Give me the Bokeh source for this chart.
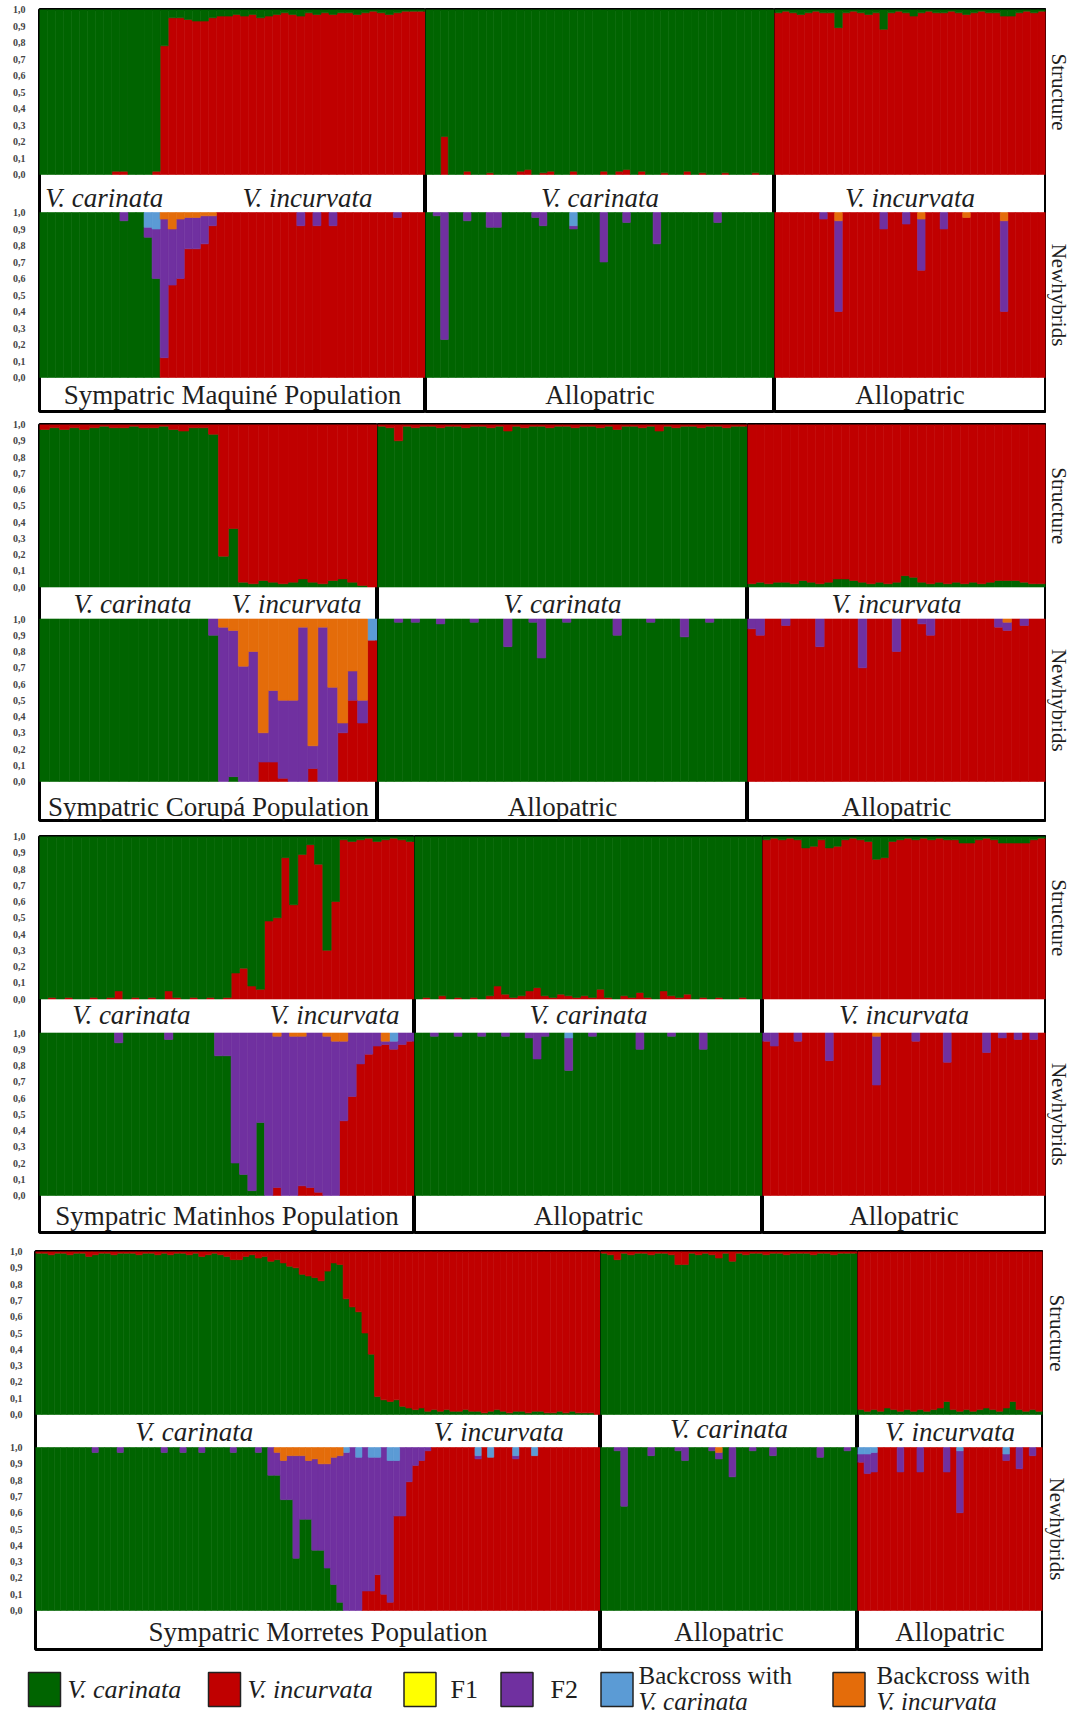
import numpy as np
from bokeh.plotting import figure
from bokeh.layouts import row, column
from bokeh.models import Range1d, FixedTicker
from bokeh.core.properties import value
from bokeh.embed import file_html
from bokeh.resources import INLINE

# ---------------- colours / labels ----------------
C_CAR = "#006400"
C_INC = "#c00000"
C_F1 = "#ffff00"
C_F2 = "#7030a0"
C_BCC = "#5b9bd5"
C_BCI = "#e46c0a"

TICK_VALUES = [0.0, 0.1, 0.2, 0.3, 0.4, 0.5, 0.6, 0.7, 0.8, 0.9, 1.0]
TICK_LABELS = ["0,0", "0,1", "0,2", "0,3", "0,4", "0,5", "0,6", "0,7", "0,8", "0,9", "1,0"]
SIDE_LABELS = ["Structure", "Newhybrids"]

LEGEND_LINE1 = ["V. carinata", "V. incurvata", "F1", "F2", "Backcross with", "Backcross with"]
LEGEND_LINE2 = ["", "", "", "", "V. carinata", "V. incurvata"]
LEGEND_COLORS = [C_CAR, C_INC, C_F1, C_F2, C_BCC, C_BCI]

# ---------------- data: Panel 1 (Maquine) ----------------
# Structure: proportion assigned to the V. carinata cluster
P1_SYM_STRUCT = [1, 1, 1, 1, 1, 1, 1, 1, 1, 0.98,
                 0.98, 1, 1, 1, 0.98, 0.22, 0.05, 0.05, 0.06, 0.07,
                 0.07, 0.05, 0.04, 0.04, 0.03, 0.04, 0.03, 0.05, 0.04, 0.03,
                 0.02, 0.03, 0.04, 0.02, 0.03, 0.02, 0.03, 0.02, 0.02, 0.03,
                 0.02, 0.01, 0.02, 0.03, 0.02, 0.01, 0.01, 0.01]
P1_SYM_NH_CAR = [1, 1, 1, 1, 1, 1, 1, 1, 1, 1,
                 0.95, 1, 1, 0.85, 0.6, 0, 0, 0, 0, 0,
                 0, 0, 0, 0, 0, 0, 0, 0, 0, 0,
                 0, 0, 0, 0, 0, 0, 0, 0, 0, 0,
                 0, 0, 0, 0, 0, 0, 0, 0]
P1_SYM_NH_F2 = [0, 0, 0, 0, 0, 0, 0, 0, 0, 0,
                0.05, 0, 0, 0.06, 0.3, 0.84, 0.34, 0.36, 0.19, 0.19,
                0.17, 0.06, 0, 0, 0, 0, 0, 0, 0, 0,
                0, 0, 0.08, 0, 0.08, 0, 0.08, 0, 0, 0,
                0, 0, 0, 0, 0.03, 0, 0, 0]
P1_SYM_NH_BCC = [0, 0, 0, 0, 0, 0, 0, 0, 0, 0,
                 0, 0, 0, 0.09, 0.1, 0, 0, 0, 0, 0,
                 0, 0, 0, 0, 0, 0, 0, 0, 0, 0,
                 0, 0, 0, 0, 0, 0, 0, 0, 0, 0,
                 0, 0, 0, 0, 0, 0, 0, 0]
P1_SYM_NH_BCI = [0, 0, 0, 0, 0, 0, 0, 0, 0, 0,
                 0, 0, 0, 0, 0, 0.04, 0.1, 0.04, 0.03, 0.03,
                 0.02, 0.02, 0, 0, 0, 0, 0, 0, 0, 0,
                 0, 0, 0, 0, 0, 0, 0, 0, 0, 0,
                 0, 0, 0, 0, 0, 0, 0, 0]

P1_CAR_STRUCT = [1, 1, 0.77, 1, 1, 0.98, 1, 1, 0.99, 1,
                 1, 1, 0.98, 0.97, 1, 0.99, 0.98, 1, 1, 0.98,
                 1, 1, 1, 0.98, 1, 0.98, 0.97, 1, 0.98, 1,
                 1, 0.99, 1, 1, 0.98, 1, 0.99, 1, 1, 0.99,
                 1, 1, 1, 0.99, 1, 1]
P1_CAR_NH_F2 = [0, 0.02, 0.77, 0, 0, 0.05, 0, 0, 0.09, 0.09,
                0, 0, 0, 0, 0.03, 0.08, 0, 0, 0, 0.02,
                0, 0, 0, 0.3, 0, 0, 0.06, 0, 0, 0,
                0.19, 0, 0, 0, 0, 0, 0, 0, 0.06, 0,
                0, 0, 0, 0, 0, 0]
P1_CAR_NH_BCC = [0, 0, 0, 0, 0, 0, 0, 0, 0, 0,
                 0, 0, 0, 0, 0, 0, 0, 0, 0, 0.08,
                 0, 0, 0, 0, 0, 0, 0, 0, 0, 0,
                 0, 0, 0, 0, 0, 0, 0, 0, 0, 0,
                 0, 0, 0, 0, 0, 0]

P1_INC_STRUCT = [0.02, 0.01, 0.02, 0.03, 0.02, 0.01, 0.02, 0.02, 0.11, 0.02,
                 0.01, 0.02, 0.03, 0.02, 0.12, 0.02, 0.01, 0.02, 0.04, 0.02,
                 0.01, 0.02, 0.02, 0.01, 0.02, 0.03, 0.02, 0.01, 0.02, 0.02,
                 0.04, 0.04, 0.02, 0.01, 0.02, 0.01]
P1_INC_NH_F2 = [0, 0, 0, 0, 0, 0, 0.04, 0, 0.55, 0,
                0, 0, 0, 0, 0.1, 0, 0, 0.07, 0, 0.31,
                0, 0, 0.1, 0, 0, 0, 0, 0, 0, 0,
                0.55, 0, 0, 0, 0, 0]
P1_INC_NH_BCI = [0, 0, 0, 0, 0, 0, 0, 0, 0.05, 0,
                 0, 0, 0, 0, 0, 0, 0, 0, 0, 0.04,
                 0, 0, 0, 0, 0, 0.03, 0, 0, 0, 0,
                 0.05, 0, 0, 0, 0, 0]

# ---------------- data: Panel 2 (Corupa) ----------------
P2_SYM_STRUCT = [0.97, 0.98, 0.97, 0.98, 0.97, 0.98, 0.99, 0.98, 0.98, 0.99,
                 0.98, 0.98, 0.99, 0.97, 0.96, 0.98, 0.98, 0.94, 0.19, 0.36,
                 0.03, 0.02, 0.04, 0.03, 0.02, 0.03, 0.05, 0.03, 0.02, 0.04,
                 0.05, 0.03, 0.01, 0]
P2_SYM_NH_CAR = [1, 1, 1, 1, 1, 1, 1, 1, 1, 1,
                 1, 1, 1, 1, 1, 1, 1, 0.9, 0, 0.03,
                 0, 0, 0, 0, 0, 0, 0, 0, 0, 0,
                 0, 0, 0, 0]
P2_SYM_NH_F2 = [0, 0, 0, 0, 0, 0, 0, 0, 0, 0,
                0, 0, 0, 0, 0, 0, 0, 0.1, 0.95, 0.9,
                0.71, 0.8, 0.18, 0.44, 0.48, 0.5, 0.95, 0.14, 0.95, 0.58,
                0.06, 0.18, 0.14, 0]
P2_SYM_NH_BCC = [0, 0, 0, 0, 0, 0, 0, 0, 0, 0,
                 0, 0, 0, 0, 0, 0, 0, 0, 0, 0,
                 0, 0, 0, 0, 0, 0, 0, 0, 0, 0,
                 0, 0, 0, 0.13]
P2_SYM_NH_BCI = [0, 0, 0, 0, 0, 0, 0, 0, 0, 0,
                 0, 0, 0, 0, 0, 0, 0, 0, 0.05, 0.07,
                 0.29, 0.2, 0.7, 0.44, 0.5, 0.5, 0.05, 0.78, 0.05, 0.42,
                 0.64, 0.32, 0.5, 0]

P2_CAR_STRUCT = [0.99, 0.98, 0.9, 0.99, 0.98, 0.99, 0.99, 0.98, 0.99, 0.99,
                 0.98, 0.99, 0.99, 0.98, 0.99, 0.96, 0.99, 0.98, 0.99, 0.99,
                 0.98, 0.99, 0.99, 0.98, 0.99, 0.99, 0.98, 0.99, 0.97, 0.99,
                 0.99, 0.98, 0.99, 0.96, 0.99, 0.98, 0.99, 0.99, 0.98, 0.99,
                 0.99, 0.98, 0.99, 0.99]
P2_CAR_NH_F2 = [0, 0, 0.02, 0, 0.02, 0, 0, 0.03, 0, 0,
                0, 0.02, 0, 0, 0, 0.17, 0, 0, 0.02, 0.24,
                0, 0, 0.02, 0, 0, 0, 0, 0, 0.1, 0,
                0, 0, 0.02, 0, 0, 0, 0.11, 0, 0, 0.02,
                0, 0, 0, 0]

P2_INC_STRUCT = [0.02, 0.03, 0.02, 0.03, 0.03, 0.02, 0.04, 0.03, 0.02, 0.03,
                 0.05, 0.05, 0.04, 0.03, 0.02, 0.03, 0.02, 0.03, 0.07, 0.06,
                 0.03, 0.02, 0.03, 0.02, 0.03, 0.02, 0.03, 0.02, 0.03, 0.04,
                 0.04, 0.04, 0.03, 0.02, 0.02]
P2_INC_NH_F2 = [0.06, 0.1, 0, 0, 0.04, 0, 0, 0, 0.17, 0,
                0, 0, 0, 0.3, 0, 0, 0, 0.2, 0, 0,
                0.03, 0.1, 0, 0, 0, 0, 0, 0, 0, 0.05,
                0.05, 0, 0.04, 0, 0]
P2_INC_NH_BCI = [0, 0, 0, 0, 0, 0, 0, 0, 0, 0,
                 0, 0, 0, 0, 0, 0, 0, 0, 0, 0,
                 0, 0, 0, 0, 0, 0, 0, 0, 0, 0,
                 0.02, 0, 0, 0, 0]

# ---------------- data: Panel 3 (Matinhos) ----------------
P3_SYM_STRUCT = [1, 0.99, 1, 0.99, 1, 1, 0.99, 1, 0.99, 0.95,
                 1, 0.99, 1, 0.99, 1, 0.95, 0.99, 1, 0.99, 1,
                 0.99, 1, 0.99, 0.84, 0.81, 0.92, 0.94, 0.52, 0.5, 0.13,
                 0.42, 0.11, 0.05, 0.17, 0.7, 0.4, 0.02, 0.03, 0.02, 0.01,
                 0.03, 0.02, 0.01, 0.02, 0.03]
P3_SYM_NH_CAR = [1, 1, 1, 1, 1, 1, 1, 1, 1, 0.94,
                 1, 1, 1, 1, 1, 0.96, 1, 1, 1, 1,
                 1, 0.86, 0.86, 0.2, 0.13, 0.03, 0.45, 0, 0, 0,
                 0, 0, 0, 0, 0, 0, 0, 0, 0, 0,
                 0, 0, 0, 0, 0]
P3_SYM_NH_F2 = [0, 0, 0, 0, 0, 0, 0, 0, 0, 0.06,
                0, 0, 0, 0, 0, 0.04, 0, 0, 0, 0,
                0, 0.14, 0.14, 0.8, 0.87, 0.97, 0.55, 1, 0.93, 1,
                0.98, 0.92, 0.95, 0.98, 0.98, 0.95, 0.49, 0.39, 0.19, 0.13,
                0.08, 0.02, 0.05, 0.07, 0.05]
P3_SYM_NH_BCC = [0, 0, 0, 0, 0, 0, 0, 0, 0, 0,
                 0, 0, 0, 0, 0, 0, 0, 0, 0, 0,
                 0, 0, 0, 0, 0, 0, 0, 0, 0, 0,
                 0, 0, 0, 0, 0, 0, 0, 0, 0, 0,
                 0, 0, 0.05, 0, 0]
P3_SYM_NH_BCI = [0, 0, 0, 0, 0, 0, 0, 0, 0, 0,
                 0, 0, 0, 0, 0, 0, 0, 0, 0, 0,
                 0, 0, 0, 0, 0, 0, 0, 0, 0.02, 0,
                 0.02, 0.02, 0, 0, 0.02, 0.05, 0.05, 0, 0, 0,
                 0, 0.05, 0, 0, 0]

P3_CAR_STRUCT = [1, 0.99, 1, 0.98, 1, 0.99, 1, 0.99, 1, 0.98,
                 0.92, 0.97, 0.99, 0.98, 0.95, 0.93, 0.98, 0.99, 0.97, 0.98,
                 0.99, 0.98, 0.99, 0.94, 0.99, 1, 0.98, 0.99, 0.96, 0.99,
                 1, 0.95, 0.98, 0.99, 0.97, 1, 0.99, 1, 0.99, 1,
                 1, 0.99, 1, 1]
P3_CAR_NH_F2 = [0, 0, 0.02, 0, 0, 0.02, 0, 0, 0.02, 0,
                0, 0.02, 0, 0, 0.03, 0.16, 0.02, 0, 0, 0.2,
                0, 0, 0.02, 0, 0, 0, 0, 0, 0.1, 0,
                0, 0, 0.02, 0, 0, 0, 0.1, 0, 0, 0,
                0, 0, 0, 0]
P3_CAR_NH_BCC = [0, 0, 0, 0, 0, 0, 0, 0, 0, 0,
                 0, 0, 0, 0, 0, 0, 0, 0, 0, 0.03,
                 0, 0, 0, 0, 0, 0, 0, 0, 0, 0,
                 0, 0, 0, 0, 0, 0, 0, 0, 0, 0,
                 0, 0, 0, 0]

P3_INC_STRUCT = [0.02, 0.01, 0.02, 0.01, 0.02, 0.07, 0.06, 0.02, 0.07, 0.06,
                 0.02, 0.01, 0.02, 0.03, 0.14, 0.13, 0.03, 0.02, 0.01, 0.02,
                 0.01, 0.02, 0.01, 0.02, 0.02, 0.04, 0.04, 0.02, 0.01, 0.02,
                 0.04, 0.04, 0.04, 0.04, 0.02, 0.01]
P3_INC_NH_F2 = [0.05, 0.08, 0, 0, 0.05, 0, 0, 0, 0.17, 0,
                0, 0, 0, 0, 0.3, 0, 0, 0, 0, 0.05,
                0, 0, 0, 0.18, 0, 0, 0, 0, 0.12, 0,
                0.03, 0, 0.04, 0, 0.04, 0]
P3_INC_NH_BCI = [0, 0, 0, 0, 0, 0, 0, 0, 0, 0,
                 0, 0, 0, 0, 0.02, 0, 0, 0, 0, 0,
                 0, 0, 0, 0, 0, 0, 0, 0, 0, 0,
                 0, 0, 0, 0, 0, 0]

# ---------------- data: Panel 4 (Morretes) ----------------
P4_SYM_STRUCT = [0.99, 0.99, 0.98, 0.99, 0.99, 0.98, 0.99, 0.99, 0.97, 0.98,
                 0.99, 0.99, 0.98, 0.99, 0.99, 0.99, 0.98, 0.99, 0.99, 0.98,
                 0.99, 0.98, 0.99, 0.99, 0.98, 0.99, 0.97, 0.98, 0.99, 0.98,
                 0.97, 0.95, 0.95, 0.97, 0.98, 0.96, 0.97, 0.94, 0.95, 0.93,
                 0.91, 0.9, 0.86, 0.85, 0.84, 0.82, 0.88, 0.93, 0.92, 0.71,
                 0.66, 0.63, 0.5, 0.37, 0.11, 0.09, 0.08, 0.09, 0.05, 0.04,
                 0.03, 0.04, 0.02, 0.03, 0.02, 0.03, 0.02, 0.02, 0.03, 0.02,
                 0.02, 0.01, 0.02, 0.03, 0.02, 0.01, 0.02, 0.02, 0.01, 0.02,
                 0.02, 0.01, 0.01, 0.02, 0.01, 0.02, 0.01, 0.01, 0.01, 0]
P4_SYM_NH_CAR = [1, 1, 1, 1, 1, 1, 1, 1, 1, 0.97,
                 1, 1, 1, 0.97, 1, 1, 1, 1, 1, 1,
                 0.97, 1, 1, 0.97, 1, 1, 0.97, 1, 1, 1,
                 1, 0.97, 1, 1, 1, 0.97, 1, 0.83, 0.83, 0.68,
                 0.68, 0.32, 0.56, 0.56, 0.37, 0.37, 0.26, 0.16, 0.05, 0,
                 0, 0, 0, 0, 0, 0, 0, 0, 0, 0,
                 0, 0, 0, 0, 0, 0, 0, 0, 0, 0,
                 0, 0, 0, 0, 0, 0, 0, 0, 0, 0,
                 0, 0, 0, 0, 0, 0, 0, 0, 0, 0]
P4_SYM_NH_F2 = [0, 0, 0, 0, 0, 0, 0, 0, 0, 0.03,
                0, 0, 0, 0.03, 0, 0, 0, 0, 0, 0,
                0.03, 0, 0, 0.03, 0, 0, 0.03, 0, 0, 0,
                0, 0.03, 0, 0, 0, 0.03, 0, 0.17, 0.14, 0.24,
                0.27, 0.63, 0.39, 0.36, 0.56, 0.53, 0.64, 0.78, 0.9, 0.97,
                1, 0.94, 0.88, 0.82, 0.72, 0.9, 0.87, 0.34, 0.42, 0.21,
                0.11, 0.08, 0.02, 0, 0, 0, 0, 0, 0, 0,
                0.02, 0, 0, 0, 0, 0, 0.02, 0, 0, 0,
                0, 0, 0, 0, 0, 0, 0, 0, 0, 0]
P4_SYM_NH_BCC = [0, 0, 0, 0, 0, 0, 0, 0, 0, 0,
                 0, 0, 0, 0, 0, 0, 0, 0, 0, 0,
                 0, 0, 0, 0, 0, 0, 0, 0, 0, 0,
                 0, 0, 0, 0, 0, 0, 0, 0, 0, 0,
                 0, 0, 0, 0, 0, 0, 0, 0, 0, 0.03,
                 0, 0.06, 0, 0.06, 0.06, 0, 0.08, 0.08, 0, 0,
                 0, 0, 0, 0, 0, 0, 0, 0, 0, 0,
                 0.05, 0, 0.06, 0, 0, 0, 0.05, 0, 0, 0.05,
                 0, 0, 0, 0, 0, 0, 0, 0, 0, 0]
P4_SYM_NH_BCI = [0, 0, 0, 0, 0, 0, 0, 0, 0, 0,
                 0, 0, 0, 0, 0, 0, 0, 0, 0, 0,
                 0, 0, 0, 0, 0, 0, 0, 0, 0, 0,
                 0, 0, 0, 0, 0, 0, 0, 0, 0.03, 0.08,
                 0.05, 0.05, 0.05, 0.08, 0.07, 0.1, 0.1, 0.06, 0.05, 0,
                 0, 0, 0, 0, 0, 0, 0, 0, 0, 0,
                 0, 0, 0, 0, 0, 0, 0, 0, 0, 0,
                 0, 0, 0, 0, 0, 0, 0, 0, 0, 0,
                 0, 0, 0, 0, 0, 0, 0, 0, 0, 0]

P4_CAR_STRUCT = [0.99, 0.98, 0.95, 0.99, 0.98, 0.99, 0.99, 0.98, 0.99, 0.99,
                 0.98, 0.92, 0.92, 0.99, 0.98, 0.99, 0.98, 0.96, 0.99, 0.94,
                 0.99, 0.98, 0.99, 0.99, 0.98, 0.99, 0.99, 0.98, 0.99, 0.99,
                 0.99, 0.98, 0.99, 0.99, 0.98, 0.99, 0.99, 0.99]
P4_CAR_NH_F2 = [0, 0, 0.02, 0.36, 0, 0, 0, 0.05, 0, 0,
                0, 0.02, 0.08, 0, 0, 0, 0.02, 0.04, 0, 0.18,
                0, 0, 0.02, 0, 0, 0.05, 0, 0, 0, 0,
                0, 0, 0.06, 0, 0, 0, 0.02, 0]
P4_CAR_NH_BCI = [0, 0, 0, 0, 0, 0, 0, 0, 0, 0,
                 0, 0, 0, 0, 0, 0, 0, 0.03, 0, 0,
                 0, 0, 0, 0, 0, 0, 0, 0, 0, 0,
                 0, 0, 0, 0, 0, 0, 0, 0]

P4_INC_STRUCT = [0.03, 0.02, 0.03, 0.02, 0.04, 0.03, 0.02, 0.03, 0.02, 0.03,
                 0.02, 0.03, 0.04, 0.08, 0.03, 0.02, 0.03, 0.02, 0.03, 0.04,
                 0.03, 0.02, 0.04, 0.08, 0.03, 0.02, 0.03, 0.02]
P4_INC_NH_F2 = [0.05, 0.12, 0.12, 0, 0, 0, 0.15, 0, 0, 0.15,
                0, 0, 0, 0.15, 0, 0.38, 0, 0, 0, 0,
                0, 0, 0.04, 0, 0.13, 0, 0.05, 0]
P4_INC_NH_BCC = [0.04, 0.04, 0.03, 0, 0, 0, 0, 0, 0, 0,
                 0, 0, 0, 0, 0, 0.02, 0, 0, 0, 0,
                 0, 0, 0.04, 0, 0, 0, 0, 0]

# ---------------- layout description ----------------
PANELS = [
    dict(row=(8, 425), T=17, B=419, band_mid=38, band_bot=34, edges=[47, 433, 782, 1053],
         standoff=14, struct_bottom="red", label_x=1066,
         sections=[dict(kind="mix", struct=P1_SYM_STRUCT, car=P1_SYM_NH_CAR, f2=P1_SYM_NH_F2, bcc=P1_SYM_NH_BCC, bci=P1_SYM_NH_BCI),
                   dict(kind="car", struct=P1_CAR_STRUCT, f2=P1_CAR_NH_F2, bcc=P1_CAR_NH_BCC),
                   dict(kind="inc", struct=P1_INC_STRUCT, f2=P1_INC_NH_F2, bci=P1_INC_NH_BCI)],
         texts=[[("V. carinata", 0.168, 205, "italic"), ("V. incurvata", 0.694, 205, "italic"),
                 ("Sympatric Maquiné Population", 0.5, 402, "normal")],
                [("V. carinata", 0.5, 205, "italic"), ("Allopatric", 0.5, 402, "normal")],
                [("V. incurvata", 0.5, 205, "italic"), ("Allopatric", 0.5, 402, "normal")]]),
    dict(row=(425, 835), T=432, B=828, band_mid=32, band_bot=39, edges=[47, 385, 755, 1053],
         standoff=14, struct_bottom="green", label_x=1066,
         sections=[dict(kind="mix", struct=P2_SYM_STRUCT, car=P2_SYM_NH_CAR, f2=P2_SYM_NH_F2, bcc=P2_SYM_NH_BCC, bci=P2_SYM_NH_BCI),
                   dict(kind="car", struct=P2_CAR_STRUCT, f2=P2_CAR_NH_F2),
                   dict(kind="inc", struct=P2_INC_STRUCT, f2=P2_INC_NH_F2, bci=P2_INC_NH_BCI)],
         texts=[[("V. carinata", 0.275, 611, "italic"), ("V. incurvata", 0.76, 611, "italic"),
                 ("Sympatric Corupá Population", 0.5, 814, "normal")],
                [("V. carinata", 0.5, 611, "italic"), ("Allopatric", 0.5, 814, "normal")],
                [("V. incurvata", 0.5, 611, "italic"), ("Allopatric", 0.5, 814, "normal")]]),
    dict(row=(835, 1248), T=844, B=1240, band_mid=34, band_bot=37, edges=[47, 422, 770, 1053],
         standoff=14, struct_bottom="red", label_x=1066,
         sections=[dict(kind="mix", struct=P3_SYM_STRUCT, car=P3_SYM_NH_CAR, f2=P3_SYM_NH_F2, bcc=P3_SYM_NH_BCC, bci=P3_SYM_NH_BCI),
                   dict(kind="car", struct=P3_CAR_STRUCT, f2=P3_CAR_NH_F2, bcc=P3_CAR_NH_BCC),
                   dict(kind="inc", struct=P3_INC_STRUCT, f2=P3_INC_NH_F2, bci=P3_INC_NH_BCI)],
         texts=[[("V. carinata", 0.245, 1022, "italic"), ("V. incurvata", 0.787, 1022, "italic"),
                 ("Sympatric Matinhos Population", 0.5, 1223, "normal")],
                [("V. carinata", 0.5, 1022, "italic"), ("Allopatric", 0.5, 1223, "normal")],
                [("V. incurvata", 0.5, 1022, "italic"), ("Allopatric", 0.5, 1223, "normal")]]),
    dict(row=(1248, 1665), T=1259, B=1657, band_mid=33, band_bot=39, edges=[43, 608, 865, 1050],
         standoff=13, struct_bottom="green", label_x=1064,
         sections=[dict(kind="mix", struct=P4_SYM_STRUCT, car=P4_SYM_NH_CAR, f2=P4_SYM_NH_F2, bcc=P4_SYM_NH_BCC, bci=P4_SYM_NH_BCI),
                   dict(kind="car", struct=P4_CAR_STRUCT, f2=P4_CAR_NH_F2, bci=P4_CAR_NH_BCI),
                   dict(kind="inc", struct=P4_INC_STRUCT, f2=P4_INC_NH_F2, bcc=P4_INC_NH_BCC)],
         texts=[[("V. carinata", 0.281, 1439, "italic"), ("V. incurvata", 0.82, 1439, "italic"),
                 ("Sympatric Morretes Population", 0.5, 1639, "normal")],
                [("V. carinata", 0.5, 1436, "italic"), ("Allopatric", 0.5, 1639, "normal")],
                [("V. incurvata", 0.5, 1439, "italic"), ("Allopatric", 0.5, 1639, "normal")]]),
]

FONT = "Liberation Serif"
TEXT_COLOR = "#1e1e1e"
PAGE_RIGHT = 1078


def stack(p, n, layers, base):
    cum = np.zeros(n)
    xs = np.arange(n) + 0.5
    for vals, col in layers:
        v = np.clip(np.asarray(vals, dtype=float), 0, None)
        m = v > 1e-9
        if m.any():
            p.vbar(x=xs[m], width=1.0, bottom=(base + cum)[m], top=(base + cum + v)[m],
                   fill_color=col, line_color=col, line_width=0.6)
        cum = cum + v


def build_panel(cfg):
    T, B = cfg["T"], cfg["B"]
    u = (B - T - cfg["band_mid"] - cfg["band_bot"]) / 2.0
    nh0 = B - cfg["band_bot"]
    S0 = 1.0 + cfg["band_mid"] / u
    y_start = -cfg["band_bot"] / u
    y_end = S0 + 1.0
    r0, r1 = cfg["row"]
    edges = cfg["edges"]
    figs = []
    for k, sec in enumerate(cfg["sections"]):
        n = len(sec["struct"])
        first, last = (k == 0), (k == 2)
        bl = edges[0] - 8 if first else 0
        br = 1 if last else 0
        fw = edges[k + 1] - edges[k]
        p = figure(width=fw + bl + br, height=r1 - r0,
                   x_range=Range1d(0, n), y_range=Range1d(y_start, y_end),
                   output_backend="svg", toolbar_location=None,
                   min_border_left=bl, min_border_right=br,
                   min_border_top=T - r0, min_border_bottom=r1 - B,
                   x_axis_location=None, y_axis_location=("left" if first else None))
        p.grid.visible = False
        p.outline_line_color = "black"
        p.outline_line_width = 3
        p.background_fill_color = "white"
        p.border_fill_color = "white"

        zeros = [0] * n
        f2 = np.asarray(sec.get("f2", zeros), float)
        bcc = np.asarray(sec.get("bcc", zeros), float)
        bci = np.asarray(sec.get("bci", zeros), float)
        f1 = np.zeros(n)
        hyb = f2 + bcc + bci + f1
        if sec["kind"] == "mix":
            car = np.asarray(sec["car"], float)
            inc = 1.0 - car - hyb
        elif sec["kind"] == "car":
            car = 1.0 - hyb
            inc = np.zeros(n)
        else:
            inc = 1.0 - hyb
            car = np.zeros(n)
        # Newhybrids block (0..1)
        stack(p, n, [(car, C_CAR), (inc, C_INC), (f1, C_F1), (f2, C_F2), (bcc, C_BCC), (bci, C_BCI)], 0.0)

        # Structure block (S0..S0+1)
        q = np.asarray(sec["struct"], float)
        if cfg["struct_bottom"] == "red":
            layers = [(1.0 - q, C_INC), (q, C_CAR)]
        else:
            layers = [(q, C_CAR), (1.0 - q, C_INC)]
        stack(p, n, layers, S0)

        for (txt, frac, py, style) in cfg["texts"][k]:
            p.text(x=[frac * n], y=[(nh0 - py) / u], text=[txt],
                   text_font=value(FONT), text_font_size="27px", text_font_style=style,
                   text_align="center", text_baseline="middle", text_color=TEXT_COLOR)

        if first:
            ticks = list(TICK_VALUES) + [S0 + t for t in TICK_VALUES]
            labels = list(TICK_LABELS) + list(TICK_LABELS)
            ax = p.yaxis[0]
            ax.ticker = FixedTicker(ticks=ticks)
            ax.major_label_overrides = {t: lab for t, lab in zip(ticks, labels)}
            ax.axis_line_color = None
            ax.major_tick_line_color = None
            ax.minor_tick_line_color = None
            ax.major_tick_out = 0
            ax.major_tick_in = 0
            ax.major_label_standoff = cfg["standoff"]
            ax.major_label_text_font = FONT
            ax.major_label_text_font_style = "bold"
            ax.major_label_text_font_size = "10px"
            ax.major_label_text_color = "#444444"
        figs.append(p)

    # narrow strip on the right for the rotated method names
    left = edges[3] + 1
    wl = PAGE_RIGHT - left
    q = figure(width=wl, height=r1 - r0, x_range=Range1d(left, PAGE_RIGHT),
               y_range=Range1d(y_start, y_end), output_backend="svg", toolbar_location=None,
               min_border_left=0, min_border_right=0, min_border_top=T - r0, min_border_bottom=r1 - B,
               x_axis_location=None, y_axis_location=None)
    q.grid.visible = False
    q.outline_line_color = None
    q.text(x=[cfg["label_x"], cfg["label_x"]], y=[S0 + 0.5, 0.5], text=SIDE_LABELS,
           angle=-np.pi / 2, text_font=value(FONT), text_font_size="21px",
           text_align="center", text_baseline="middle", text_color=TEXT_COLOR)
    figs.append(q)
    return row(*figs, spacing=0)


rows = [build_panel(cfg) for cfg in PANELS]

# ---------------- legend ----------------
LEG_SQ_X = [52, 232, 427.5, 524.5, 624.5, 856.5]
LEG_TX_X = [75, 255, 458, 558, 646, 884]
leg = figure(width=1070, height=60, x_range=Range1d(8, 1078), y_range=Range1d(1725, 1665),
             output_backend="svg", toolbar_location=None, min_border=0,
             x_axis_location=None, y_axis_location=None)
leg.grid.visible = False
leg.outline_line_color = None
leg.rect(x=LEG_SQ_X, y=[1697] * 6, width=32, height=34, fill_color=LEGEND_COLORS,
         line_color="#222222", line_width=1.5)
for xt, l1, l2 in zip(LEG_TX_X, LEGEND_LINE1, LEGEND_LINE2):
    if l2:
        leg.text(x=[xt], y=[1683], text=[l1], text_font=value(FONT), text_font_size="25px",
                 text_font_style="normal", text_align="left", text_baseline="middle", text_color=TEXT_COLOR)
        leg.text(x=[xt], y=[1709], text=[l2], text_font=value(FONT), text_font_size="25px",
                 text_font_style="italic", text_align="left", text_baseline="middle", text_color=TEXT_COLOR)
    else:
        style = "italic" if l1.startswith("V.") else "normal"
        leg.text(x=[xt], y=[1697], text=[l1], text_font=value(FONT), text_font_size="26px",
                 text_font_style=style, text_align="left", text_baseline="middle", text_color=TEXT_COLOR)

layout = column(*rows, leg, spacing=0)
open("out.html", "w").write(file_html(layout, INLINE))
